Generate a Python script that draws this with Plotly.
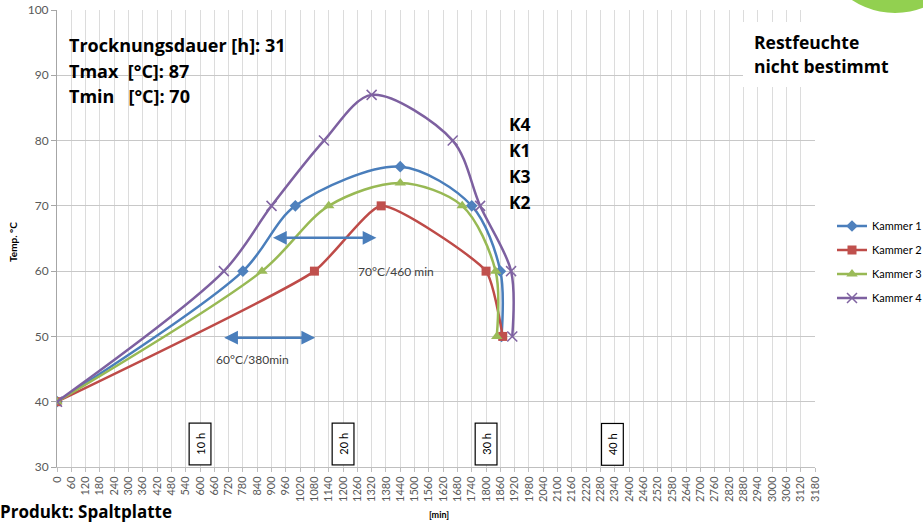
import plotly.graph_objects as go

# ---------------- data ----------------
k1_x = [0, 780, 1000, 1440, 1740, 1860, 1865]
k1_y = [40, 60, 70, 76, 70, 60, 50]
k2_x = [0, 1080, 1360, 1800, 1870]
k2_y = [40, 60, 70, 60, 50]
k3_x = [0, 860, 1140, 1440, 1700, 1840, 1845]
k3_y = [40, 60, 70, 73.5, 70, 60, 50]
k4_x = [0, 700, 900, 1120, 1320, 1660, 1775, 1905, 1910]
k4_y = [40, 60, 70, 80, 87, 80, 70, 60, 50]
x_ticks = list(range(0, 3181, 60))
y_ticks = list(range(30, 101, 10))
hour_marks = [(600, "10 h"), (1200, "20 h"), (1800, "30 h"), (2330, "40 h")]

# ---------------- layout geometry ----------------
W, H = 923, 524
L, R, T, B = 57, 815, 10, 467


def px(x):
    return (x - L) / (R - L)


def py(y):
    return (B - y) / (B - T)


FONT = "Lato"
BIG = "Open Sans"
series = [
    ("Kammer 1", k1_x, k1_y, "#4A7EBB", "#4F81BD", "diamond", 9, 0.9),
    ("Kammer 2", k2_x, k2_y, "#BE4B48", "#C0504D", "square", 9, 0.5),
    ("Kammer 3", k3_x, k3_y, "#98B954", "#9BBB59", "triangle-up", 10, 0.9),
    ("Kammer 4", k4_x, k4_y, "#7D60A0", "#8064A2", "x-thin", 10, 0.9),
]

fig = go.Figure()
for name, xs, ys, lc, mc, sym, ms, sm in series:
    fig.add_trace(go.Scatter(
        x=xs, y=ys, name=name, mode="lines+markers", legendgroup=name,
        line=dict(color=lc, width=2.5, shape="spline", smoothing=sm),
        marker=dict(symbol=sym, size=ms, color=mc,
                    line=dict(color=mc, width=1.5 if sym == "x-thin" else 0)),
    ))

shapes = []
for x0, y0, x1, y1 in [(57, 27, 310, 133), (497, 100, 546, 218)]:
    shapes.append(dict(type="rect", xref="paper", yref="paper",
                       x0=px(x0), x1=px(x1), y0=py(y1), y1=py(y0),
                       fillcolor="white", line=dict(width=0), layer="between"))
shapes.append(dict(type="rect", xref="paper", yref="paper",
                   x0=px(743), x1=px(923), y0=py(87), y1=py(22),
                   fillcolor="white", line=dict(width=0), layer="above"))
shapes.append(dict(type="circle", xref="paper", yref="paper",
                   x0=px(895 - 78), x1=px(895 + 78), y0=py(-65 + 78), y1=py(-65 - 78),
                   fillcolor="#92D050", line=dict(width=0), layer="above"))

ann = []


def text(x, y, t, size=17.5, bold=True, xanchor="left", color="#000000", angle=0, family=BIG):
    ann.append(dict(xref="paper", yref="paper", x=px(x), y=py(y), text=f"<b>{t}</b>" if bold else t,
                    showarrow=False, xanchor=xanchor, yanchor="middle", textangle=angle,
                    font=dict(family=family, size=size, color=color)))


text(67, 45, "Trocknungsdauer [h]: 31", size=18)
text(67, 71, "Tmax\u00a0 [°C]: 87", size=18)
text(67, 96, "Tmin\u00a0\u00a0 [°C]: 70", size=18)
text(752, 42, "Restfeuchte")
text(752, 66, "nicht bestimmt")
for yy, t in zip([124, 150, 176, 202], ["K4", "K1", "K3", "K2"]):
    text(507, yy, t)
text(396, 271, "70°C/460 min", size=12, bold=False, xanchor="center", color="#404040", family=FONT)
text(252, 359, "60°C/380min", size=12, bold=False, xanchor="center", color="#404040", family=FONT)
text(-2, 511, "Produkt: Spaltplatte", size=17)
text(439, 514, "[min]", size=9, xanchor="center", family=FONT)
text(13, 242, "Temp. °C", size=10, xanchor="center", angle=-90, family=FONT)

for x0, x1, yv in [(900, 1340, 65.1), (695, 1083, 49.8)]:
    ann.append(dict(x=x1, y=yv, ax=x0, ay=yv, xref="x", yref="y", axref="x", ayref="y",
                    showarrow=True, arrowhead=2, startarrowhead=2, arrowside="end+start",
                    arrowsize=1.1, startarrowsize=1.1, arrowwidth=2.5, arrowcolor="#4A7EBB", text=""))

for xv, t in hour_marks:
    ann.append(dict(x=xv, y=33.45, xref="x", yref="y", text="\u00a0\u00a0" + t + "\u00a0\u00a0",
                    textangle=-90, showarrow=False,
                    font=dict(family=FONT, size=11, color="#000000"),
                    bgcolor="white", bordercolor="#000000", borderwidth=1.2, borderpad=4))

fig.update_layout(
    width=W, height=H,
    margin=dict(l=L, r=W - R, t=T, b=H - B, autoexpand=False),
    paper_bgcolor="white", plot_bgcolor="white",
    font=dict(family=FONT, color="#595959"),
    showlegend=True,
    legend=dict(x=px(832), y=py(262), xanchor="left", yanchor="middle",
                font=dict(family=FONT, size=11, color="#000000"),
                bgcolor="rgba(0,0,0,0)", tracegroupgap=5, itemwidth=30),
    shapes=shapes, annotations=ann,
)
fig.update_xaxes(range=[0, 3180], tickvals=x_ticks, ticktext=[str(v) for v in x_ticks],
                 tickangle=-90, tickfont=dict(size=11, color="#595959"),
                 showgrid=True, gridcolor="#DCDCDC", gridwidth=1, automargin=False,
                 showline=True, linecolor="#BFBFBF", ticks="outside", ticklen=4, tickcolor="#BFBFBF",
                 zeroline=False)
fig.update_yaxes(range=[30, 100], tickvals=y_ticks, tickfont=dict(size=12, color="#595959"),
                 showgrid=True, gridcolor="#C8C8C8", gridwidth=1, automargin=False,
                 showline=True, linecolor="#A6A6A6", ticks="outside", ticklen=5, tickcolor="#A6A6A6",
                 zeroline=False)

fig.write_html("out.html", config={"displayModeBar": False},
               post_script="document.body.style.margin='0';document.body.style.padding='0';")
